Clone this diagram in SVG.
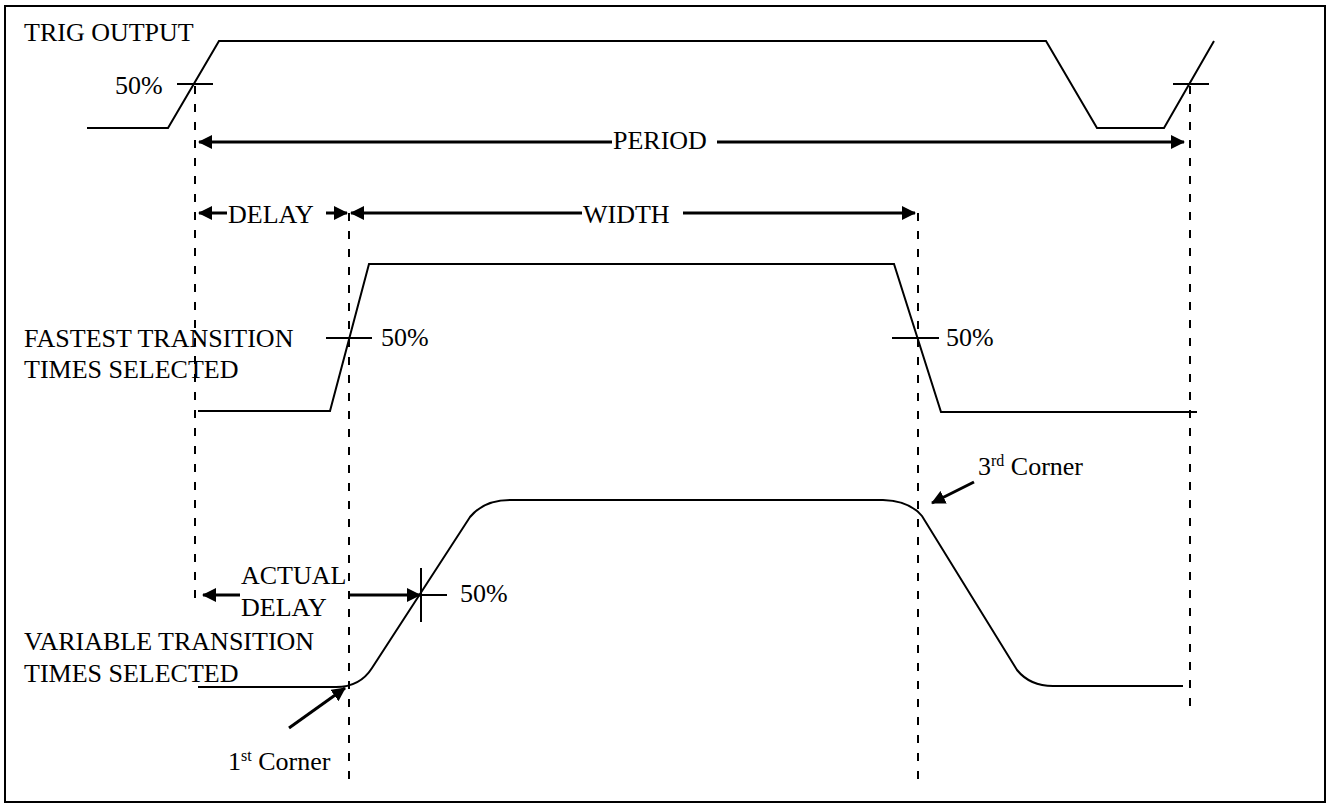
<svg xmlns="http://www.w3.org/2000/svg" width="1334" height="804" viewBox="0 0 1334 804">
<style>
text{font-family:"Liberation Serif","Times New Roman",serif;font-size:26px;fill:#000}
.sup{font-size:16px}
.wave{fill:none;stroke:#000;stroke-width:2}
.tick{stroke:#000;stroke-width:2}
.dash{stroke:#000;stroke-width:2;stroke-dasharray:8 10;fill:none}
.arr{stroke:#000;stroke-width:3;fill:none;marker-end:url(#ah)}
</style>
<defs>
<marker id="ah" viewBox="0 0 14 14" refX="13" refY="7" markerWidth="14" markerHeight="14" markerUnits="userSpaceOnUse" orient="auto">
<path d="M0,0 L14,7 L0,14 Z" fill="#000"/>
</marker>
</defs>
<rect x="5" y="6" width="1320" height="796" fill="#fff" stroke="#000" stroke-width="2"/>

<g id="trig-output">
<text x="24" y="41">TRIG OUTPUT</text>
<path class="wave" d="M87,128 L168,128 L219,41 L1046,41 L1097,128 L1164,128 L1214,41"/>
<line class="tick" x1="177" y1="84" x2="213" y2="84"/>
<line class="tick" x1="1173" y1="84" x2="1209" y2="84"/>
<text x="115" y="94">50%</text>
</g>

<g id="fastest">
<text x="24" y="347">FASTEST TRANSITION</text>
<text x="24" y="378">TIMES SELECTED</text>
<path class="wave" d="M198,411 L330,411 L369,264 L894,264 L941,412 L1197,412"/>
<line class="tick" x1="326" y1="338" x2="372" y2="338"/>
<line class="tick" x1="892" y1="338" x2="939" y2="338"/>
<text x="381" y="346">50%</text>
<text x="946" y="346">50%</text>
</g>

<g id="variable">
<text x="24" y="650">VARIABLE TRANSITION</text>
<text x="24" y="682">TIMES SELECTED</text>
<path class="wave" d="M198,687 L336,687 Q360,687 372,668 L470,517 Q484,500 510,500 L883,500 Q910,501 922,516 L1017,670 Q1030,686 1053,686 L1183,686"/>
<line class="tick" x1="421" y1="568" x2="421" y2="622"/>
<line class="tick" x1="421" y1="595" x2="447" y2="595"/>
<text x="460" y="602">50%</text>
</g>

<g id="labels">
<text x="613" y="149">PERIOD</text>
<text x="228" y="223">DELAY</text>
<text x="583" y="223">WIDTH</text>
<text x="241" y="584">ACTUAL</text>
<text x="241" y="616">DELAY</text>
<text x="228" y="770">1<tspan class="sup" dy="-9">st</tspan><tspan dy="9"> Corner</tspan></text>
<text x="978" y="475">3<tspan class="sup" dy="-9">rd</tspan><tspan dy="9"> Corner</tspan></text>
</g>

<g id="connectors">
<line class="dash" x1="195" y1="86" x2="195" y2="598"/>
<line class="dash" x1="349" y1="213" x2="349" y2="780"/>
<line class="dash" x1="918" y1="213" x2="918" y2="780"/>
<line class="dash" x1="1190" y1="86" x2="1190" y2="712"/>
<line class="arr" x1="612" y1="142" x2="199" y2="142"/>
<line class="arr" x1="717" y1="142" x2="1184" y2="142"/>
<line class="arr" x1="227" y1="213" x2="199" y2="213"/>
<line class="arr" x1="326" y1="213" x2="347" y2="213"/>
<line class="arr" x1="582" y1="213" x2="351" y2="213"/>
<line class="arr" x1="683" y1="213" x2="915" y2="213"/>
<line class="arr" x1="240" y1="595" x2="203" y2="595"/>
<line class="arr" x1="349" y1="595" x2="420" y2="595"/>
<line class="arr" x1="289" y1="728" x2="345" y2="688"/>
<line class="arr" x1="974" y1="482" x2="932" y2="503"/>
</g>
</svg>
